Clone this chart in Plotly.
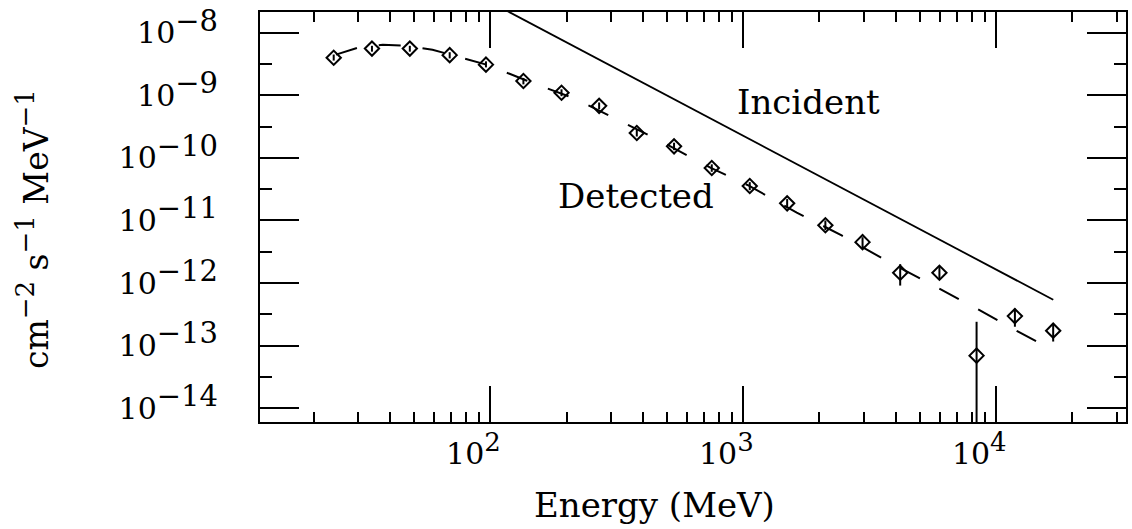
import plotly.graph_objects as go

# ---- data ----
energy = [24, 34, 48, 69, 96, 135, 191, 269, 379, 532, 750, 1060, 1490, 2110,
          2960, 4170, 5960, 8360, 11850, 16790]
flux = [4.0e-9, 5.6e-9, 5.6e-9, 4.4e-9, 3.1e-9, 1.7e-9, 1.1e-9, 6.8e-10, 2.5e-10,
        1.53e-10, 6.9e-11, 3.55e-11, 1.88e-11, 8.4e-12, 4.5e-12, 1.46e-12, 1.46e-12,
        6.9e-14, 2.96e-13, 1.73e-13]
flux_hi = [4.5e-9, 6.2e-9, 6.2e-9, 4.9e-9, 3.5e-9, 1.9e-9, 1.25e-9, 7.7e-10, 2.85e-10,
           1.75e-10, 7.9e-11, 4.1e-11, 2.2e-11, 1.0e-11, 5.4e-12, 2.0e-12, 1.8e-12,
           2.4e-13, 3.9e-13, 2.26e-13]
flux_lo = [3.6e-9, 5.0e-9, 5.0e-9, 3.9e-9, 2.8e-9, 1.5e-9, 0.97e-9, 6.0e-10, 2.2e-10,
           1.33e-10, 6.0e-11, 3.05e-11, 1.6e-11, 7.0e-12, 3.7e-12, 9.1e-13, 1.15e-12,
           1.0e-15, 2.0e-13, 1.16e-13]

model_e = [24.5, 29.9, 37.5, 46.6, 59.0, 73.4, 96.4, 138.7, 214, 328, 494, 744, 1051,
           1626, 2447, 3650, 5492, 8265, 12210, 14930]
model_f = [4.48e-9, 5.78e-9, 6.45e-9, 6.22e-9, 5.37e-9, 4.16e-9, 3.10e-9, 1.73e-9,
           8.95e-10, 3.86e-10, 1.67e-10, 6.93e-11, 3.6e-11, 1.34e-11, 5.78e-12,
           2.32e-12, 9.64e-13, 4.01e-13, 1.67e-13, 1.08e-13]

incident_e = [100, 1000, 10000, 16800]
incident_f = [3.1e-8, 2.25e-10, 1.64e-12, 5.4e-13]

x_major = [100, 1000, 10000]
x_major_text = ["2", "3", "4"]
x_minor = [m * d for d in (10, 100, 1000, 10000) for m in range(2, 10)]
y_major = [1e-8, 1e-9, 1e-10, 1e-11, 1e-12, 1e-13, 1e-14]
y_major_text = ["−8", "−9", "−10", "−11", "−12", "−13", "−14"]
y_minor = [10 ** (-8.5 - k) for k in range(6)]

FONT = "DejaVu Serif"


def power_label(exp, size):
    return "10<sup><span style='font-size:%dpx'>%s</span></sup>" % (size, exp)


def sup(txt, size):
    return "<sup><span style='font-size:%dpx'>%s</span></sup>" % (size, txt)


err_plus = [h - f for h, f in zip(flux_hi, flux)]
err_minus = [f - l for f, l in zip(flux, flux_lo)]

fig = go.Figure()
fig.add_trace(go.Scatter(x=incident_e, y=incident_f, mode="lines",
                         line=dict(color="black", width=1.8)))
fig.add_trace(go.Scatter(x=model_e, y=model_f, mode="lines",
                         line=dict(color="black", width=2, dash="22px,22px")))
fig.add_trace(go.Scatter(
    x=energy, y=flux, mode="markers",
    marker=dict(symbol="diamond-open", size=11, color="black",
                line=dict(color="black", width=2)),
    error_y=dict(type="data", symmetric=False, array=err_plus, arrayminus=err_minus,
                 color="black", thickness=2, width=0)))

axis_common = dict(showgrid=False, zeroline=False, showline=True, linecolor="black",
                   linewidth=2, mirror="ticks", ticks="inside", tickcolor="black",
                   tickwidth=2, ticklabeloverflow="allow",
                   tickfont=dict(family=FONT, size=30, color="black"))

fig.update_xaxes(type="log", range=[1.0888, 4.513], ticklen=36,
                 tickvals=x_major, ticktext=[power_label(t, 26) for t in x_major_text],
                 ticklabelshift=-17, ticklabelstandoff=4,
                 minor=dict(tickvals=x_minor, ticklen=10, ticks="inside",
                            tickwidth=2, tickcolor="black", showgrid=False),
                 **axis_common)
fig.update_yaxes(type="log", range=[-14.222, -7.667], ticklen=39,
                 tickvals=y_major, ticktext=[power_label(t, 29) for t in y_major_text],
                 ticklabelstandoff=34,
                 minor=dict(tickvals=y_minor, ticklen=12, ticks="inside",
                            tickwidth=2, tickcolor="black", showgrid=False),
                 **axis_common)

fig.add_annotation(text="Energy (MeV)", xref="paper", yref="paper", x=0.455, y=0,
                   xanchor="center", yanchor="middle", yshift=-83, showarrow=False,
                   font=dict(family=FONT, size=34, color="black"))
fig.add_annotation(text="cm" + sup("−2", 26) + " s" + sup("−1", 26) + " MeV" + sup("−1", 26),
                   xref="paper", yref="paper", x=0, y=0.5, xanchor="center",
                   yanchor="middle", xshift=-227, yshift=-12, textangle=-90,
                   showarrow=False, font=dict(family=FONT, size=33, color="black"))
fig.add_annotation(text="Incident", xref="x", yref="y", x=3.258, y=-9.111,
                   showarrow=False, font=dict(family=FONT, size=34, color="black"))
fig.add_annotation(text="Detected", xref="x", yref="y", x=2.576, y=-10.603,
                   showarrow=False, font=dict(family=FONT, size=34, color="black"))

fig.update_layout(width=1132, height=529, margin=dict(l=260, r=4, t=8, b=107),
                  plot_bgcolor="white", paper_bgcolor="white", showlegend=False,
                  font=dict(family=FONT, color="black"))

fig.write_html("out.html", config={"displayModeBar": False},
               post_script="document.body.style.margin='0px';")
